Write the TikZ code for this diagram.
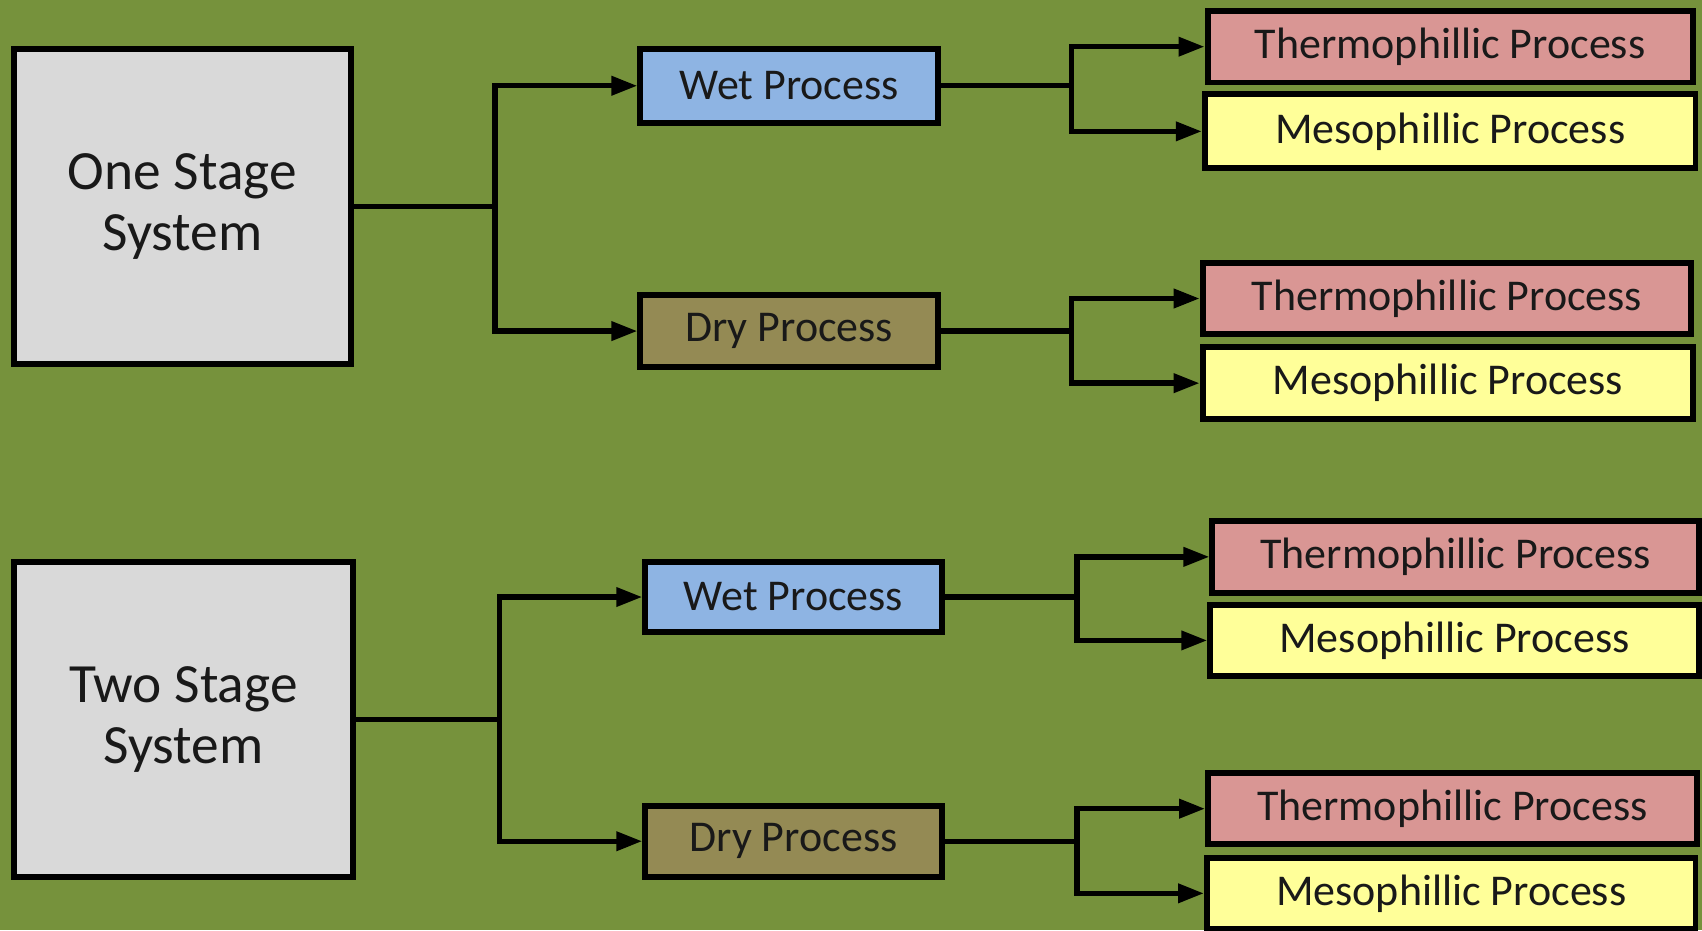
\documentclass[tikz,border=0pt]{standalone}
\usepackage{fontspec}
\setmainfont{Carlito}
\usetikzlibrary{arrows.meta}
\definecolor{bg}{HTML}{76923C}
\definecolor{sysgray}{HTML}{D9D9D9}
\definecolor{wetblue}{HTML}{8EB4E3}
\definecolor{drybrown}{HTML}{948A54}
\definecolor{thermo}{HTML}{D99694}
\definecolor{meso}{HTML}{FFFF99}
\begin{document}
\begin{tikzpicture}[x=1pt,y=-1pt,
  box/.style={draw=black, line width=5.5pt, inner sep=0pt, text=black!90, font=\fontsize{40.5}{48}\selectfont},
  sysbox/.style={box, fill=sysgray, align=center, font=\fontsize{51}{56}\selectfont},
  wetbox/.style={box, fill=wetblue},
  drybox/.style={box, fill=drybrown},
  thbox/.style={box, fill=thermo},
  mebox/.style={box, fill=meso},
  conn/.style={draw=black, line width=5pt},
  arr/.style={conn, -{Triangle[length=24pt,width=17pt]}}]
\fill[bg] (0,0) rectangle (1568,857);
\useasboundingbox (0,0) rectangle (1568,857);

% One stage
\node[sysbox, minimum width=310pt, minimum height=290pt] (one) at (168,190) {One Stage\\System};
\node[wetbox, minimum width=274pt, minimum height=68pt] (wet1) at (727,79) {Wet Process};
\node[drybox, minimum width=274pt, minimum height=67pt] (dry1) at (727,305) {Dry Process};
\node[thbox, minimum width=447pt, minimum height=66pt] (t1) at (1336,43) {Thermophillic Process};
\node[mebox, minimum width=452pt, minimum height=68pt] (m1) at (1336,121) {Mesophillic Process};
\node[thbox, minimum width=450pt, minimum height=66pt] (t2) at (1333,275) {Thermophillic Process};
\node[mebox, minimum width=452pt, minimum height=66pt] (m2) at (1334,353) {Mesophillic Process};

% Two stage
\node[sysbox, minimum width=312pt, minimum height=290pt] (two) at (169,663) {Two Stage\\System};
\node[wetbox, minimum width=273pt, minimum height=65pt] (wet2) at (731,550) {Wet Process};
\node[drybox, minimum width=273pt, minimum height=65pt] (dry2) at (731,775) {Dry Process};
\node[thbox, minimum width=448pt, minimum height=66pt] (t3) at (1341,513) {Thermophillic Process};
\node[mebox, minimum width=450pt, minimum height=65pt] (m3) at (1340,590) {Mesophillic Process};
\node[thbox, minimum width=450pt, minimum height=65pt] (t4) at (1338,745) {Thermophillic Process};
\node[mebox, minimum width=450pt, minimum height=66pt] (m4) at (1337,823) {Mesophillic Process};

% junctions
\coordinate (j1) at (456,190);
\coordinate (j2) at (987,79);
\coordinate (j3) at (987,305);
\coordinate (j4) at (460,663);
\coordinate (j5) at (992,550);
\coordinate (j6) at (992,775);

\draw[conn] (one.east) -- (j1);
\draw[arr] (j1) |- (wet1.west);
\draw[arr] (j1) |- (dry1.west);
\draw[conn] (wet1.east) -- (j2);
\draw[arr] (j2) |- (t1.west);
\draw[arr] (j2) |- (m1.west);
\draw[conn] (dry1.east) -- (j3);
\draw[arr] (j3) |- (t2.west);
\draw[arr] (j3) |- (m2.west);

\draw[conn] (two.east) -- (j4);
\draw[arr] (j4) |- (wet2.west);
\draw[arr] (j4) |- (dry2.west);
\draw[conn] (wet2.east) -- (j5);
\draw[arr] (j5) |- (t3.west);
\draw[arr] (j5) |- (m3.west);
\draw[conn] (dry2.east) -- (j6);
\draw[arr] (j6) |- (t4.west);
\draw[arr] (j6) |- (m4.west);
\end{tikzpicture}
\end{document}
